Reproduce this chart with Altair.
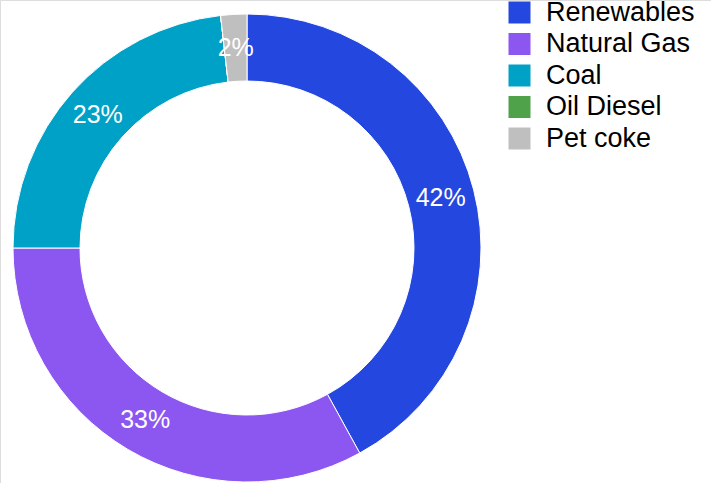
import altair as alt
import pandas as pd

sources = ["Renewables", "Natural Gas", "Coal", "Oil Diesel", "Pet coke"]
shares = [42.0, 33.0, 23.2, 0.0, 1.8]
colors = ["#2448df", "#8b57f0", "#00a1c7", "#4fa14a", "#bfbfbf"]

df = pd.DataFrame({"source": sources, "share": shares, "order": list(range(len(sources)))})

FONT = "Liberation Sans"
CX, CY = 247, 248

base = alt.Chart(df).encode(
    theta=alt.Theta("share:Q", stack=True, scale=alt.Scale(domain=[0, 100])),
    order=alt.Order("order:Q"),
)

arcs = base.mark_arc(
    outerRadius=234, innerRadius=167, stroke="white", strokeWidth=1
).encode(
    x=alt.value(CX),
    y=alt.value(CY),
    color=alt.Color(
        "source:N",
        scale=alt.Scale(domain=sources, range=colors),
        sort=sources,
        legend=alt.Legend(
            title=None,
            orient="none",
            legendX=506,
            legendY=-1,
            padding=0,
            symbolType="square",
            symbolSize=484,
            symbolStrokeWidth=0,
            labelFontSize=27,
            labelFont=FONT,
            labelColor="#000000",
            labelOffset=13,
            rowPadding=3.5,
            symbolOpacity=1,
        ),
    ),
)

labels = base.mark_text(
    radius=200, font=FONT, fontSize=25, color="white"
).encode(
    x=alt.value(CX),
    y=alt.value(CY),
    text=alt.Text("label:N"),
).transform_filter(
    "datum.share > 0"
).transform_calculate(
    label="round(datum.share) + '%'"
)

chart = alt.layer(arcs, labels).properties(
    width=711, height=483, padding=0, autosize=alt.AutoSizeParams(type="none")
).configure_view(stroke=None).configure(background="white")

chart.save("out.html", embed_options={"renderer": "svg", "actions": False})
